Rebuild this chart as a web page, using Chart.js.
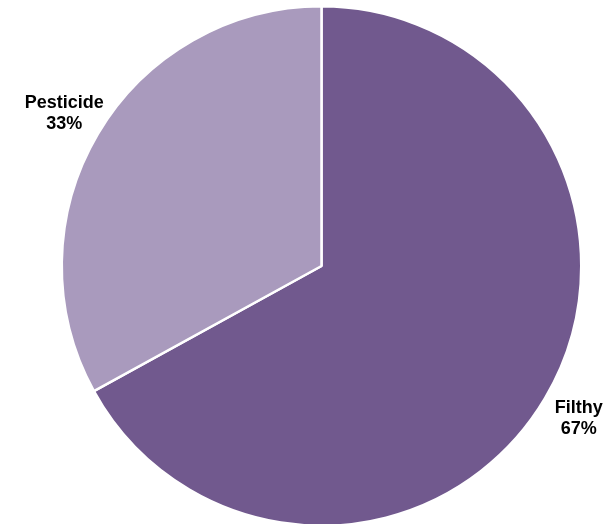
<!DOCTYPE html>
<html>
<head>
<meta charset="utf-8">
<script src="https://cdn.jsdelivr.net/npm/chart.js@4/dist/chart.umd.min.js"></script>
<style>
  html, body { margin: 0; padding: 0; background: #ffffff; overflow: hidden; }
  #wrap { width: 607px; height: 530px; position: relative; }
</style>
</head>
<body>
<div id="wrap"><canvas id="c"></canvas></div>
<script>
const categories = ["Filthy", "Pesticide"];
const shares = [67, 33];
const sliceColors = ["#71598E", "#A99ABD"];

const outsideLabels = {
  id: 'outsideLabels',
  afterDatasetsDraw(chart) {
    const ctx = chart.ctx;
    const meta = chart.getDatasetMeta(0);
    ctx.save();
    ctx.font = 'bold 18px "Liberation Sans", Arial, sans-serif';
    ctx.fillStyle = '#000000';
    ctx.textAlign = 'center';
    ctx.textBaseline = 'middle';
    meta.data.forEach((arc, i) => {
      const p = arc.getProps(['x', 'y', 'startAngle', 'endAngle', 'outerRadius'], true);
      const mid = (p.startAngle + p.endAngle) / 2;
      const d = p.outerRadius + 39;
      const lx = p.x + Math.cos(mid) * d;
      const ly = p.y + Math.sin(mid) * d;
      ctx.fillText(categories[i], lx, ly - 10.5);
      ctx.fillText(shares[i] + '%', lx, ly + 10.5);
    });
    ctx.restore();
  }
};

new Chart(document.getElementById('c'), {
  type: 'pie',
  data: {
    labels: categories,
    datasets: [{
      data: shares,
      backgroundColor: sliceColors,
      borderColor: '#ffffff',
      borderWidth: 2.5
    }]
  },
  options: {
    responsive: true,
    maintainAspectRatio: false,
    animation: false,
    layout: { padding: { top: 5, bottom: 3, left: 36, right: 0 } },
    plugins: {
      legend: { display: false },
      tooltip: { enabled: false }
    }
  },
  plugins: [outsideLabels]
});
</script>
</body>
</html>
